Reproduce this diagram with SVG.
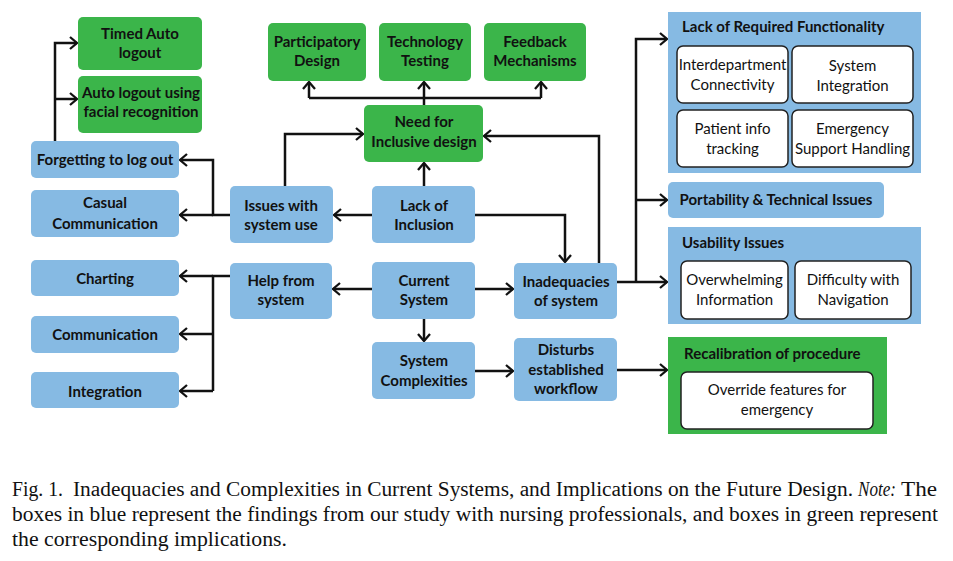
<svg xmlns="http://www.w3.org/2000/svg" width="953" height="561" viewBox="0 0 953 561">
<style>
.b{fill:#86BAE3;}
.g{fill:#3BB54A;}
.w{fill:#fff;stroke:#222;stroke-width:1.5;}
.t{font-family:Lato,"Liberation Sans",sans-serif;font-weight:bold;font-size:15px;fill:#111;text-anchor:middle;}
.tl{font-family:Lato,"Liberation Sans",sans-serif;font-weight:bold;font-size:15px;fill:#111;}
.n{font-family:Lato,"Liberation Sans",sans-serif;font-size:15px;fill:#111;text-anchor:middle;}
.c{font-family:"Liberation Serif",serif;font-size:20.5px;fill:#111;}
.e{fill:none;stroke:#111;stroke-width:2.5;}
.ea{fill:none;stroke:#111;stroke-width:2.5;marker-end:url(#arr);}
</style>
<defs>
<marker id="arr" markerUnits="userSpaceOnUse" markerWidth="12" markerHeight="16" viewBox="0 0 12 16" refX="10" refY="8" orient="auto">
<path d="M3,2 L10,8 L3,14" fill="none" stroke="#111" stroke-width="2.3"/>
</marker>
</defs>
<rect width="953" height="561" fill="#fff"/>

<g id="connectors">
<path class="ea" d="M55,141 V43 H77"/>
<path class="ea" d="M55,99 H77"/>
<path class="ea" d="M230,215 H213 V160 H180"/>
<path class="ea" d="M213,215 H180"/>
<path class="ea" d="M285,186 V134 H363"/>
<path class="ea" d="M372,215 H334"/>
<path class="ea" d="M424,186 V163"/>
<path class="ea" d="M424,105 V82"/>
<path class="e" d="M309,98 H541"/>
<path class="ea" d="M309,98 V82"/>
<path class="ea" d="M541,98 V82"/>
<path class="ea" d="M475,215 H565 V262"/>
<path class="ea" d="M599,263 V136 H484"/>
<path class="ea" d="M617,282 H667"/>
<path class="ea" d="M636,282 V39 H667"/>
<path class="ea" d="M636,200 H667"/>
<path class="ea" d="M372,289 H333"/>
<path class="ea" d="M475,289 H513"/>
<path class="ea" d="M424,319 V341"/>
<path class="ea" d="M475,371 H513"/>
<path class="ea" d="M617,370 H667"/>
<path class="e" d="M230,276 H213 V391"/>
<path class="ea" d="M213,276 H180"/>
<path class="ea" d="M213,334 H180"/>
<path class="ea" d="M213,391 H180"/>
</g>

<g id="timed-auto-logout"><rect class="g" x="78" y="17" width="124" height="53" rx="5"/><text class="t" x="140" y="39">Timed Auto</text><text class="t" x="140" y="58">logout</text></g>
<g id="auto-logout-facial"><rect class="g" x="78" y="76" width="124" height="57" rx="5"/><text class="t" x="141" y="98">Auto logout using</text><text class="t" x="141" y="117">facial recognition</text></g>
<g id="forgetting"><rect class="b" x="31" y="141" width="148" height="37" rx="5"/><text class="t" x="105" y="165">Forgetting to log out</text></g>
<g id="casual"><rect class="b" x="31" y="190" width="148" height="47" rx="5"/><text class="t" x="105" y="208">Casual</text><text class="t" x="105" y="229">Communication</text></g>
<g id="participatory"><rect class="g" x="268" y="23" width="98" height="58" rx="5"/><text class="t" x="317" y="47">Participatory</text><text class="t" x="317" y="66">Design</text></g>
<g id="technology"><rect class="g" x="379" y="23" width="92" height="58" rx="5"/><text class="t" x="425" y="47">Technology</text><text class="t" x="425" y="66">Testing</text></g>
<g id="feedback"><rect class="g" x="484" y="23" width="102" height="58" rx="5"/><text class="t" x="535" y="47">Feedback</text><text class="t" x="535" y="66">Mechanisms</text></g>
<g id="need-inclusive"><rect class="g" x="364" y="105" width="119" height="57" rx="5"/><text class="t" x="424" y="127">Need for</text><text class="t" x="424" y="147">Inclusive design</text></g>
<g id="issues-system-use"><rect class="b" x="230" y="186" width="103" height="57" rx="5"/><text class="t" x="281" y="211">Issues with</text><text class="t" x="281" y="230">system use</text></g>
<g id="lack-inclusion"><rect class="b" x="372" y="186" width="103" height="57" rx="5"/><text class="t" x="424" y="211">Lack of</text><text class="t" x="424" y="230">Inclusion</text></g>
<g id="charting"><rect class="b" x="31" y="260" width="148" height="36" rx="5"/><text class="t" x="105" y="284">Charting</text></g>
<g id="communication"><rect class="b" x="31" y="316" width="148" height="37" rx="5"/><text class="t" x="105" y="340">Communication</text></g>
<g id="integration"><rect class="b" x="31" y="372" width="148" height="36" rx="5"/><text class="t" x="105" y="397">Integration</text></g>
<g id="help-from-system"><rect class="b" x="230" y="263" width="102" height="56" rx="5"/><text class="t" x="281" y="286">Help from</text><text class="t" x="281" y="305">system</text></g>
<g id="current-system"><rect class="b" x="372" y="262" width="103" height="57" rx="5"/><text class="t" x="424" y="286">Current</text><text class="t" x="424" y="305">System</text></g>
<g id="inadequacies"><rect class="b" x="514" y="263" width="103" height="56" rx="5"/><text class="t" x="566" y="287">Inadequacies</text><text class="t" x="566" y="306">of system</text></g>
<g id="system-complexities"><rect class="b" x="372" y="342" width="103" height="57" rx="5"/><text class="t" x="424" y="366">System</text><text class="t" x="424" y="386">Complexities</text></g>
<g id="disturbs"><rect class="b" x="514" y="338" width="103" height="63" rx="5"/><text class="t" x="566" y="355">Disturbs</text><text class="t" x="566" y="375">established</text><text class="t" x="566" y="394">workflow</text></g>

<g id="lack-required-functionality">
<rect class="b" x="668" y="12" width="253" height="161"/>
<text class="tl" x="682" y="32">Lack of Required Functionality</text>
<rect class="w" x="677" y="46" width="111" height="57" rx="6"/><text class="n" x="732.5" y="70">Interdepartment</text><text class="n" x="732.5" y="90">Connectivity</text>
<rect class="w" x="792" y="46" width="121" height="57" rx="6"/><text class="n" x="852.5" y="71">System</text><text class="n" x="852.5" y="91">Integration</text>
<rect class="w" x="677" y="110" width="111" height="57" rx="6"/><text class="n" x="732.5" y="134">Patient info</text><text class="n" x="732.5" y="154">tracking</text>
<rect class="w" x="792" y="110" width="121" height="57" rx="6"/><text class="n" x="852.5" y="134">Emergency</text><text class="n" x="852.5" y="154">Support Handling</text>
</g>
<g id="portability"><rect class="b" x="668" y="182" width="216" height="36" rx="5"/><text class="t" x="776" y="205">Portability &amp; Technical Issues</text></g>
<g id="usability-issues">
<rect class="b" x="668" y="227" width="253" height="97"/>
<text class="tl" x="682" y="248">Usability Issues</text>
<rect class="w" x="681" y="261" width="107" height="58" rx="6"/><text class="n" x="734.5" y="285">Overwhelming</text><text class="n" x="734.5" y="305">Information</text>
<rect class="w" x="795" y="261" width="116" height="58" rx="6"/><text class="n" x="853" y="285">Difficulty with</text><text class="n" x="853" y="305">Navigation</text>
</g>
<g id="recalibration">
<rect class="g" x="668" y="337" width="219" height="97"/>
<text class="tl" x="684" y="359">Recalibration of procedure</text>
<rect class="w" x="681" y="372" width="192" height="57" rx="6"/><text class="n" x="777" y="395">Override features for</text><text class="n" x="777" y="415">emergency</text>
</g>

<g id="caption">
<text class="c" x="12" y="496" textLength="51" lengthAdjust="spacingAndGlyphs">Fig. 1.</text>
<text class="c" x="73" y="496" textLength="780" lengthAdjust="spacingAndGlyphs">Inadequacies and Complexities in Current Systems, and Implications on the Future Design.</text>
<text class="c" x="858" y="496" font-style="italic" textLength="38" lengthAdjust="spacingAndGlyphs">Note:</text>
<text class="c" x="901" y="496" textLength="36" lengthAdjust="spacingAndGlyphs">The</text>
<text class="c" x="12" y="521" textLength="926" lengthAdjust="spacingAndGlyphs">boxes in blue represent the findings from our study with nursing professionals, and boxes in green represent</text>
<text class="c" x="12" y="546" textLength="275" lengthAdjust="spacingAndGlyphs">the corresponding implications.</text>
</g>
</svg>
